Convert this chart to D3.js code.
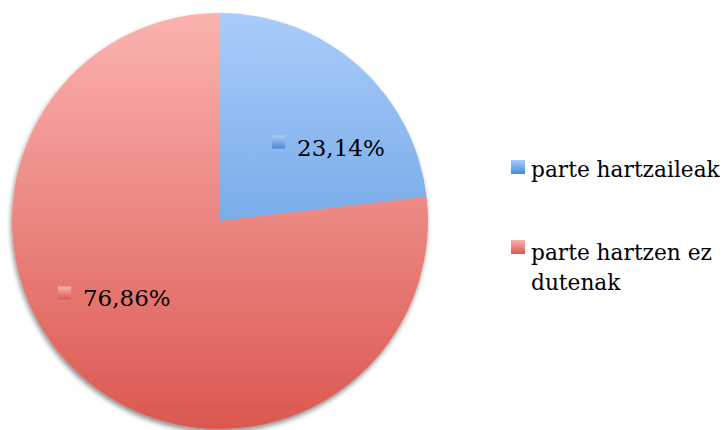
<!DOCTYPE html>
<html>
<head>
<meta charset="utf-8">
<script src="https://cdn.jsdelivr.net/npm/d3@7"></script>
<style>
  body { margin: 0; background: #fff; }
  svg { display: block; }
  text { font-family: 'DejaVu Serif', serif; fill: #000; }
</style>
</head>
<body>
<div id="chart"></div>
<script>
const categories = ['parte hartzaileak', 'parte hartzen ez dutenak']
const values = [23.14, 76.86]
const valueLabels = ['23,14%', '76,86%']
const legendLines = [['parte hartzaileak'], ['parte hartzen ez', 'dutenak']]

const width = 724
const height = 430
const cx = 220
const cy = 221
const radius = 208

const svg = d3.select('#chart')
  .append('svg')
  .attr('width', width)
  .attr('height', height)

const defs = svg.append('defs')

// vertical gradients, like the office chart fill
const grads = [
  { id: 'g-blue', top: '#a9cdfa', bottom: '#4a8ad8' },
  { id: 'g-red', top: '#fbb3b0', bottom: '#db5850' }
]
grads.forEach(g => {
  const lg = defs.append('linearGradient')
    .attr('id', g.id)
    .attr('gradientUnits', 'userSpaceOnUse')
    .attr('x1', 0).attr('y1', -radius)
    .attr('x2', 0).attr('y2', radius)
  lg.append('stop').attr('offset', '0%').attr('stop-color', g.top)
  lg.append('stop').attr('offset', '100%').attr('stop-color', g.bottom)
})
// small gradients for the little squares
grads.forEach(g => {
  const lg = defs.append('linearGradient')
    .attr('id', g.id + '-sq')
    .attr('x1', 0).attr('y1', 0).attr('x2', 0).attr('y2', 1)
  lg.append('stop').attr('offset', '0%').attr('stop-color', g.top)
  lg.append('stop').attr('offset', '100%').attr('stop-color', g.bottom)
})

const shadow = defs.append('filter').attr('id', 'shadow')
  .attr('x', '-10%').attr('y', '-10%').attr('width', '120%').attr('height', '120%')
shadow.append('feGaussianBlur').attr('in', 'SourceAlpha').attr('stdDeviation', 2.5)
shadow.append('feOffset').attr('dx', -1).attr('dy', 3).attr('result', 'ob')
shadow.append('feComponentTransfer').append('feFuncA').attr('type', 'linear').attr('slope', 0.45)
const merge = shadow.append('feMerge')
merge.append('feMergeNode')
merge.append('feMergeNode').attr('in', 'SourceGraphic')

const pie = d3.pie().sort(null).value(d => d)
const arcs = pie(values)
const arc = d3.arc().innerRadius(0).outerRadius(radius)

const g = svg.append('g')
  .attr('transform', 'translate(' + cx + ',' + cy + ')')

g.append('g')
  .attr('filter', 'url(#shadow)')
  .selectAll('path')
  .data(arcs)
  .enter()
  .append('path')
  .attr('d', arc)
  .attr('fill', (d, i) => 'url(#' + grads[i].id + ')')

// data labels, placed a bit past the mid angle like the original
const labelR = 131
const labelShift = 0.23
const labels = g.selectAll('.lbl')
  .data(arcs)
  .enter()
  .append('g')
  .attr('class', 'lbl')
  .attr('transform', d => {
    const a = (d.startAngle + d.endAngle) / 2 + labelShift
    return 'translate(' + (labelR * Math.sin(a)) + ',' + (-labelR * Math.cos(a)) + ')'
  })

labels.append('rect')
  .attr('x', -55).attr('y', -10)
  .attr('width', 13).attr('height', 13)
  .attr('fill', (d, i) => 'url(#' + grads[i].id + '-sq)')

labels.append('text')
  .attr('x', -30).attr('y', 10)
  .attr('font-size', '23px')
  .text((d, i) => valueLabels[i])

// legend
const legend = svg.append('g').attr('class', 'legend')
const legendY = [160, 240]
categories.forEach((c, i) => {
  const lg = legend.append('g').attr('transform', 'translate(511,' + legendY[i] + ')')
  lg.append('rect')
    .attr('width', 14).attr('height', 14)
    .attr('fill', 'url(#' + grads[i].id + '-sq)')
  legendLines[i].forEach((t, j) => {
    lg.append('text')
      .attr('x', 20)
      .attr('y', (i === 0 ? 17 : 20) + j * 30)
      .attr('font-size', '21.7px')
      .text(t)
  })
})
</script>
</body>
</html>
